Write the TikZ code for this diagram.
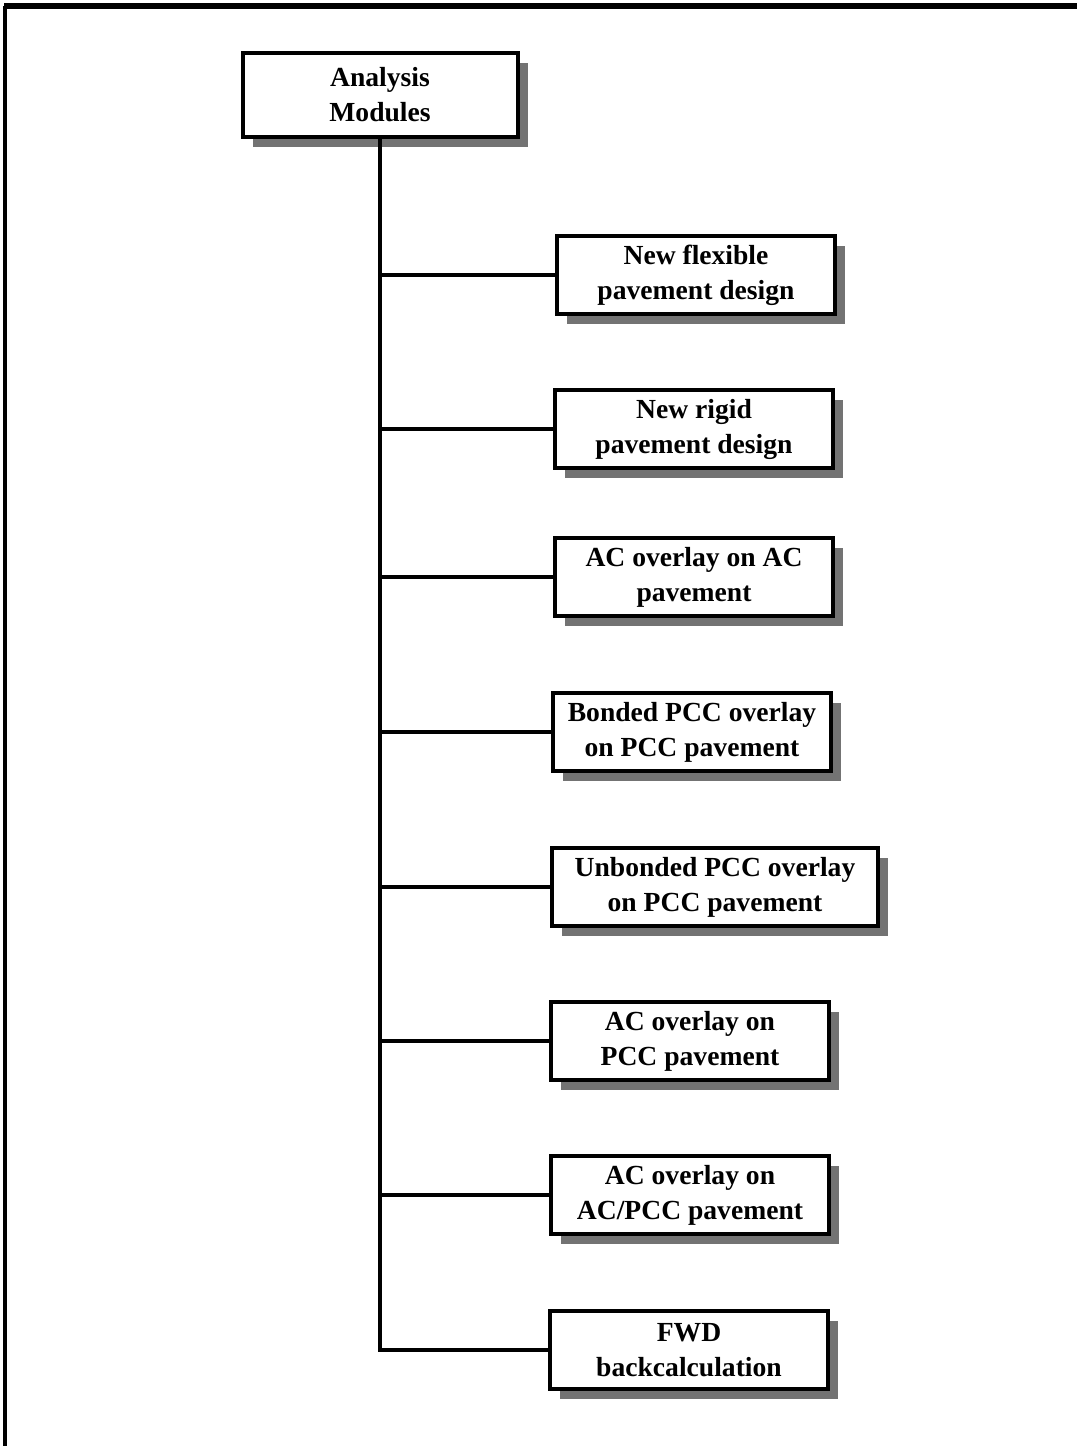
\documentclass[tikz,border=0pt]{standalone}
\usepackage{fontspec}
\setmainfont{Liberation Serif}
\usetikzlibrary{shadows}

\begin{document}
\begin{tikzpicture}[x=0.5pt, y=-0.5pt,
    module/.style={draw, line width=2pt, fill=white, align=center,
      minimum width=139pt, minimum height=39pt, inner xsep=4pt, inner ysep=2pt,
      font=\fontsize{13.8}{17.5}\selectfont\bfseries,
      drop shadow={shadow xshift=5pt, shadow yshift=-5pt, fill=black!55, opacity=1}},
    link/.style={line width=1.6pt},
  ]
  \useasboundingbox (0,0) rectangle (1077,1446);
  \draw[line width=2pt] (5,1446) -- (5,6);
  \draw[line width=3pt] (4,6) -- (1077,6);

  \node[module, minimum width=137.5pt, minimum height=42pt] (root) at (380,95) {Analysis\\Modules};

  \node[module, anchor=west] (m1) at (555,275)  {New flexible\\pavement design};
  \node[module, anchor=west] (m2) at (553,429)  {New rigid\\pavement design};
  \node[module, anchor=west] (m3) at (553,577)  {AC overlay on AC\\pavement};
  \node[module, anchor=west] (m4) at (551,732)  {Bonded PCC overlay\\on PCC pavement};
  \node[module, anchor=west, minimum width=163pt] (m5) at (550,887) {Unbonded PCC overlay\\on PCC pavement};
  \node[module, anchor=west] (m6) at (549,1041) {AC overlay on\\PCC pavement};
  \node[module, anchor=west] (m7) at (549,1195) {AC overlay on\\AC/PCC pavement};
  \node[module, anchor=west] (m8) at (548,1350) {FWD\\backcalculation};

  \draw[link] (root.south) |- (m8.west);
  \draw[link] (m1.west) -- (m1.west -| root.south);
  \draw[link] (m2.west) -- (m2.west -| root.south);
  \draw[link] (m3.west) -- (m3.west -| root.south);
  \draw[link] (m4.west) -- (m4.west -| root.south);
  \draw[link] (m5.west) -- (m5.west -| root.south);
  \draw[link] (m6.west) -- (m6.west -| root.south);
  \draw[link] (m7.west) -- (m7.west -| root.south);

\end{tikzpicture}
\end{document}
